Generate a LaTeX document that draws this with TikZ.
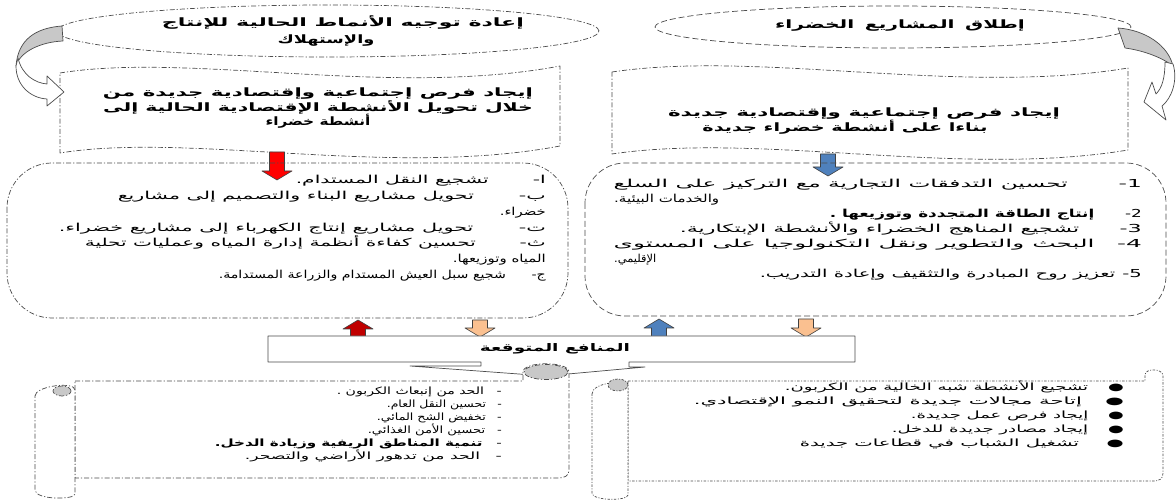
\documentclass[tikz,border=0pt]{standalone}
\usepackage{graphicx}
\usepackage{fontspec}
\setmainfont{DejaVu Sans}
\newfontfamily\arabicfont[Script=Arabic]{DejaVu Sans}
\TeXXeTstate=1
\newcommand{\ArW}[2]{\resizebox{#1}{\height}{#2}}
\newcommand{\ArS}[2]{\scalebox{#1}[1]{#2}}
\newcommand{\BlkDown}[4]{\filldraw[blk,fill=#4] (#1-7.5,#2) -- (#1+7.5,#2) -- (#1+7.5,#3-9) -- (#1+15,#3-9) -- (#1,#3) -- (#1-15,#3-9) -- (#1-7.5,#3-9) -- cycle;}
\newcommand{\BlkUp}[4]{\filldraw[blk,fill=#4] (#1-7.5,#3) -- (#1+7.5,#3) -- (#1+7.5,#2+9) -- (#1+15,#2+9) -- (#1,#2) -- (#1-15,#2+9) -- (#1-7.5,#2+9) -- cycle;}
\definecolor{redA}{HTML}{FF0000}
\definecolor{redB}{HTML}{C00000}
\definecolor{blueA}{HTML}{4F81BD}
\definecolor{peach}{HTML}{FAC090}
\definecolor{curl}{HTML}{C8C8C8}
\tikzset{
  ln/.style={draw=black!70, line width=0.7pt},
  dd/.style={ln, dash pattern=on 5pt off 2pt on 1.2pt off 2pt},
  ds/.style={ln, dash pattern=on 6pt off 3pt},
  dt/.style={ln, dash pattern=on 2.5pt off 1.5pt on 1pt off 1.5pt},
  blk/.style={draw=black!75, line width=0.6pt},
  lst/.style={inner sep=0pt, anchor=base east, font=\arabicfont\fontsize{11}{14}\selectfont},
  lstw/.style={lst, anchor=base west},
  sml/.style={inner sep=0pt, anchor=base east, font=\arabicfont\fontsize{10}{13}\selectfont},
  ttl/.style={inner sep=0pt, anchor=base, font=\arabicfont\bfseries\fontsize{11.5}{15}\selectfont},
}
\begin{document}
\begin{tikzpicture}[x=1pt,y=-1pt,line join=round]
\useasboundingbox (0,0) rectangle (1176,502);
\fill[white] (0,0) rectangle (1176,502);

% top ellipses
\draw[dd] (328,31) ellipse [x radius=271pt, y radius=26pt];
\draw[ds] (893,27) ellipse [x radius=238pt, y radius=21pt];
\node[ttl] (e1a) at (343,27) {\ArW{362pt}{\beginR إعادة توجيه الأنماط الحالية للإنتاج\endR}};
\node[ttl] (e1b) at (326,44) {\ArS{1.55}{\beginR والإستهلاك\endR}};
\node[ttl] (e2) at (900,29) {\ArW{250pt}{\beginR إطلاق\hspace{6pt}المشاريع\hspace{6pt}الخضراء\endR}};

% wave boxes
\filldraw[dd,fill=white] (60,73) .. controls (190,52) and (390,98) .. (560,66) -- (560,146) .. controls (390,178) and (190,132) .. (60,153) -- cycle;
\filldraw[dd,fill=white] (612,72) .. controls (760,50) and (960,96) .. (1128,68) -- (1128,150) .. controls (960,178) and (760,132) .. (612,154) -- cycle;
\node[ttl] (w1a) at (318,97) {\ArW{430pt}{\beginR إيجاد فرص إجتماعية وإقتصادية جديدة من\endR}};
\node[ttl] (w1b) at (318,111.5) {\ArW{430pt}{\beginR خلال تحويل الأنشطة الإقتصادية الحالية إلى\endR}};
\node[ttl] (w1c) at (318,126) {\ArW{105pt}{\beginR أنشطة خضراء\endR}};
\node[ttl] (w2a) at (864,117) {\ArW{392pt}{\beginR إيجاد فرص إجتماعية وإقتصادية جديدة\endR}};
\node[ttl] (w2b) at (845,132) {\ArW{285pt}{\beginR بناءا على أنشطة خضراء جديدة\endR}};

% curved arrows
\filldraw[ln,fill=curl] (62,26) .. controls (35,28) and (18,40) .. (16,66) .. controls (20,52) and (40,42) .. (63,41) -- cycle;
\filldraw[ln,fill=white] (18,58) .. controls (22,75) and (35,83) .. (47,84) -- (47,76) -- (64,92) -- (47,106) -- (47,99) .. controls (30,98) and (16,85) .. (16,66) -- cycle;
\filldraw[ln,fill=curl] (1118,28) .. controls (1145,30) and (1168,45) .. (1173,66) .. controls (1160,56) and (1140,50) .. (1125,48) -- cycle;
\filldraw[ln,fill=white] (1173,64) .. controls (1178,80) and (1172,98) .. (1162,106) -- (1166,120) -- (1144,102) -- (1152,82) -- (1156,94) .. controls (1162,88) and (1165,78) .. (1165,62) -- cycle;

% top block arrows
\BlkDown{277}{152}{180}{redA}
\BlkDown{828}{154}{176}{blueA}

% rounded boxes
\draw[dd,rounded corners=45pt] (7,163) rectangle (568,318);
\draw[ds,rounded corners=40pt] (585,163) rectangle (1166,316);

\node[lst] (a1) at (546,184) {\ArW{250pt}{\beginR ا\kern0pt-\hspace{24pt}تشجيع النقل المستدام.\endR}};
\node[lst] (a2) at (546,200) {\ArW{428pt}{\beginR ب\kern0pt-\hspace{24pt}تحويل مشاريع البناء والتصميم إلى مشاريع\endR}};
\node[lst] (a3) at (546,216) {\ArW{46pt}{\beginR خضراء.\endR}};
\node[lst] (a4) at (546,232) {\ArW{487pt}{\beginR ت\kern0pt-\hspace{24pt}تحويل مشاريع إنتاج الكهرباء إلى مشاريع خضراء.\endR}};
\node[lst] (a5) at (546,247) {\ArW{461pt}{\beginR ث\kern0pt-\hspace{24pt}تحسين كفاءة أنظمة إدارة المياه وعمليات تحلية\endR}};
\node[lst] (a6) at (546,263) {\ArW{93pt}{\beginR المياه وتوزيعها.\endR}};
\node[lst] (a7) at (546,279) {\ArW{327pt}{\beginR ج\kern0pt-\hspace{20pt}شجيع سبل العيش المستدام والزراعة المستدامة.\endR}};

\node[lst] (b1) at (1142,188) {\ArW{528pt}{\beginR 1\kern0pt-\hspace{24pt}تحسين التدفقات التجارية مع التركيز على السلع\endR}};
\node[lstw] (b2) at (614,203) {\ArW{105pt}{\beginR والخدمات البيئية.\endR}};
\node[lst] (b3) at (1142,218) {\ArW{312pt}{\beginR 2\kern0pt-\hspace{20pt}\bfseries إنتاج الطاقة المتجددة وتوزيعها .\endR}};
\node[lst] (b4) at (1142,233) {\ArW{462pt}{\beginR 3\kern0pt-\hspace{20pt}تشجيع المناهج الخضراء والأنشطة الإبتكارية.\endR}};
\node[lst] (b5) at (1142,248) {\ArW{528pt}{\beginR 4\kern0pt-\hspace{10pt}البحث والتطوير ونقل التكنولوجيا على المستوى\endR}};
\node[lstw] (b6) at (614,263) {\ArW{42pt}{\beginR الإقليمي.\endR}};
\node[lst] (b7) at (1142,278) {\ArW{382pt}{\beginR 5\kern0pt-\hspace{4pt}تعزيز روح المبادرة والتثقيف وإعادة التدريب.\endR}};

% lower block arrows
\BlkUp{358}{320}{337}{redB}
\BlkDown{480}{320}{337}{peach}
\BlkUp{659}{319}{337}{blueA}
\BlkDown{806}{319}{337}{peach}

% benefits box (down arrow callout)
\filldraw[ln,fill=white] (268,336) -- (855,336) -- (855,362) -- (629,362) -- (629,367) -- (645,367) -- (546,376) -- (410,366) -- (481,366) -- (481,362) -- (268,362) -- cycle;
\node[inner sep=0pt,font=\arabicfont\bfseries\fontsize{10.5}{13}\selectfont] (ben) at (555,349) {\ArW{150pt}{\beginR المنافع المتوقعة\endR}};

% left scroll
\filldraw[dd,fill=white] (75,381) -- (523,381) -- (523,372) .. controls (523,361) and (569,361) .. (569,372) -- (569,470) .. controls (569,476) and (565,478) .. (557,478) -- (75,478) -- cycle;
\filldraw[dd,fill=curl] (546,372) ellipse [x radius=22pt, y radius=7.5pt];
\filldraw[dd,fill=white] (35,396) .. controls (35,386) and (75,381) .. (75,390) -- (75,494) .. controls (75,500) and (35,500) .. (35,490) -- cycle;
\filldraw[dd,fill=curl] (62,391) ellipse [x radius=9pt, y radius=5pt];

% right scroll
\filldraw[dt,fill=white] (628,381) -- (1145,381) -- (1145,375) .. controls (1145,368) and (1163,368) .. (1163,376) -- (1163,473) .. controls (1163,479) and (1160,481) .. (1152,481) -- (628,481) -- cycle;
\filldraw[dt,fill=white] (592,394) .. controls (592,382) and (628,379) .. (628,388) -- (628,495) .. controls (628,501) and (592,501) .. (592,493) -- cycle;
\filldraw[dt,fill=curl] (618,385) ellipse [x radius=10pt, y radius=6pt];

\node[sml] (c1) at (502,395) {\ArW{165pt}{\beginR -\hspace{9pt}الحد من إنبعاث الكربون .\endR}};
\node[sml] (c2) at (502,408) {\ArW{115pt}{\beginR -\hspace{9pt}تحسين النقل العام.\endR}};
\node[sml] (c3) at (502,421) {\ArW{125pt}{\beginR -\hspace{9pt}تخفيض الشح المائي.\endR}};
\node[sml] (c4) at (502,434) {\ArW{134pt}{\beginR -\hspace{9pt}تحسين الأمن الغذائي.\endR}};
\node[sml] (c5) at (502,447) {\ArW{287pt}{\beginR -\hspace{9pt}\bfseries تنمية المناطق الريفية وزيادة الدخل.\endR}};
\node[sml] (c6) at (502,460) {\ArW{257pt}{\beginR -\hspace{9pt}الحد من تدهور الأراضي والتصحر.\endR}};

\node[sml] (d1) at (1124,391) {\ArW{339pt}{\beginR ●\hspace{11pt}تشجيع الأنشطة شبه الخالية من الكربون.\endR}};
\node[sml] (d2) at (1124,405) {\ArW{430pt}{\beginR ●\hspace{11pt}إتاحة مجالات جديدة لتحقيق النمو الإقتصادي.\endR}};
\node[sml] (d3) at (1124,419) {\ArW{213pt}{\beginR ●\hspace{11pt}إيجاد فرص عمل جديدة.\endR}};
\node[sml] (d4) at (1124,433) {\ArW{232pt}{\beginR ●\hspace{11pt}إيجاد مصادر جديدة للدخل.\endR}};
\node[sml] (d5) at (1124,447) {\ArW{324pt}{\beginR ●\hspace{14pt}تشغيل الشباب في قطاعات جديدة\endR}};
\end{tikzpicture}
\end{document}
